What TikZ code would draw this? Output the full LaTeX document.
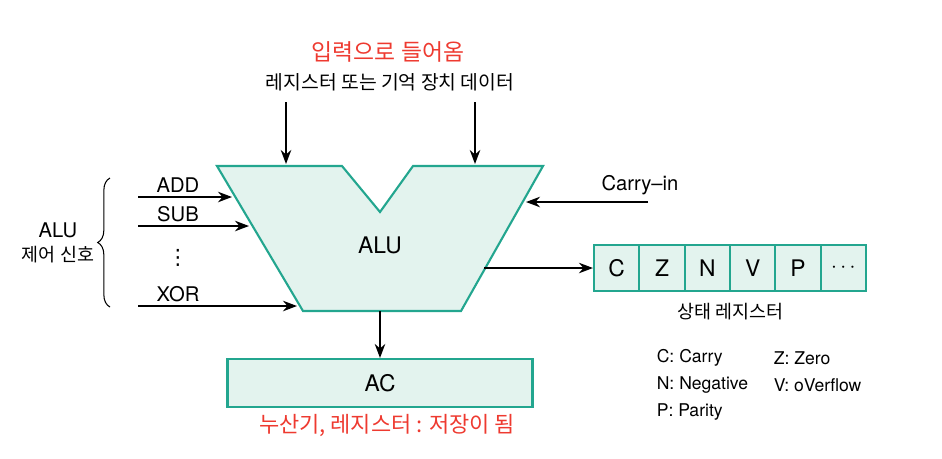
\documentclass[tikz,border=0pt]{standalone}
\usepackage{fontspec}
\setmainfont{TeX Gyre Heros}
\newfontfamily\kr{Noto Sans CJK KR}
\newfontfamily\symb{DejaVu Sans}
\usetikzlibrary{arrows.meta,decorations.pathreplacing}
\definecolor{aluline}{RGB}{35,166,143}
\definecolor{alufill}{RGB}{227,243,238}
\definecolor{notered}{RGB}{238,58,48}

\begin{document}
\begin{tikzpicture}[x=0.02cm,y=-0.02cm,>={Stealth[length=8pt,width=6pt]},line width=0.9pt,
	box/.style={draw=aluline,fill=alufill,line width=1.2pt},
	cell/.style={box,inner sep=0pt,minimum width=0.907cm,minimum height=0.92cm,font=\fontsize{13}{15}\selectfont},
	lbl/.style={font=\fontsize{11.5}{13}\selectfont},
	krlbl/.style={font=\fontsize{10.5}{13}\selectfont\kr},
	legend/.style={anchor=west,inner sep=0pt,font=\fontsize{10}{12}\selectfont}]
		\useasboundingbox (0,0) rectangle (942,458);
		% ALU body
		\draw[box] (217,166)--(342,166)--(380,212)--(413,166)--(543,166)--(461,311)--(303,311)--cycle;
		\node[font=\fontsize{13}{15}\selectfont] (alu) at (380,245) {ALU};
		% operands from above
		\node[font=\fontsize{13}{15}\selectfont\kr,text=notered] (inlbl) at (388,52) {입력으로 들어옴};
		\node[font=\fontsize{11}{13}\selectfont\kr] (srclbl) at (390,82) {레지스터 또는 기억 장치 데이터};
		\coordinate (ina) at (286,102); \coordinate (inaend) at (286,164);
		\coordinate (inb) at (475,102); \coordinate (inbend) at (475,164);
		\draw[->] (ina)--(inaend);
		\draw[->] (inb)--(inbend);
		% control signals
		\foreach \op/\y/\xe in {ADD/197/232,SUB/226/249,XOR/306/297}{
			\coordinate (\op s) at (138,\y);
			\coordinate (\op e) at (\xe,\y);
			\draw[->] (\op s)--(\op e);
			\node[lbl] (\op) at (178,\y-12) {\op};
		}
		\node[font=\fontsize{12}{14}\selectfont\symb] (dots) at (178,258) {⋮};
		\draw[line width=0.6pt,decorate,decoration={brace,amplitude=7pt}] (110,307)--(110,178);
		\node[align=center,lbl] (ctrl) at (58,243) {ALU\\[1pt]{\kr\fontsize{10.5}{13}\selectfont 제어 신호}};
		% carry in
		\node[lbl] (cin) at (640,185) {Carry--in};
		\coordinate (cins) at (648,202); \coordinate (cine) at (526,202);
		\draw[->] (cins)--(cine);
		% status register
		\foreach \t [count=\i] in {C,Z,N,V,P,$\cdots$}
			\node[cell] (s\i) at (594+45.33*\i-22.67,268) {\t};
		\coordinate (aluflag) at (484,268);
		\draw[->] (aluflag)--(s1.west);
		\node[krlbl] (stlbl) at (730,312) {상태 레지스터};
		% accumulator
		\node[box,minimum width=6.1cm,minimum height=0.96cm,font=\fontsize{13}{15}\selectfont] (ac) at (380,383) {AC};
		\coordinate (aluout) at (380,311);
		\draw[->] (aluout)--(ac.north);
		\node[font=\fontsize{12.5}{15}\selectfont\kr,text=notered] (aclbl) at (387,425) {누산기, 레지스터 : 저장이 됨};
		% flag legend
		\node[legend] (lc) at (656,358) {C: Carry};
		\node[legend] (lz) at (773,358) {Z: Zero};
		\node[legend] (ln) at (656,385) {N: Negative};
		\node[legend] (lv) at (773,385) {V: oVerflow};
		\node[legend] (lp) at (656,412) {P: Parity};
\end{tikzpicture}
\end{document}
